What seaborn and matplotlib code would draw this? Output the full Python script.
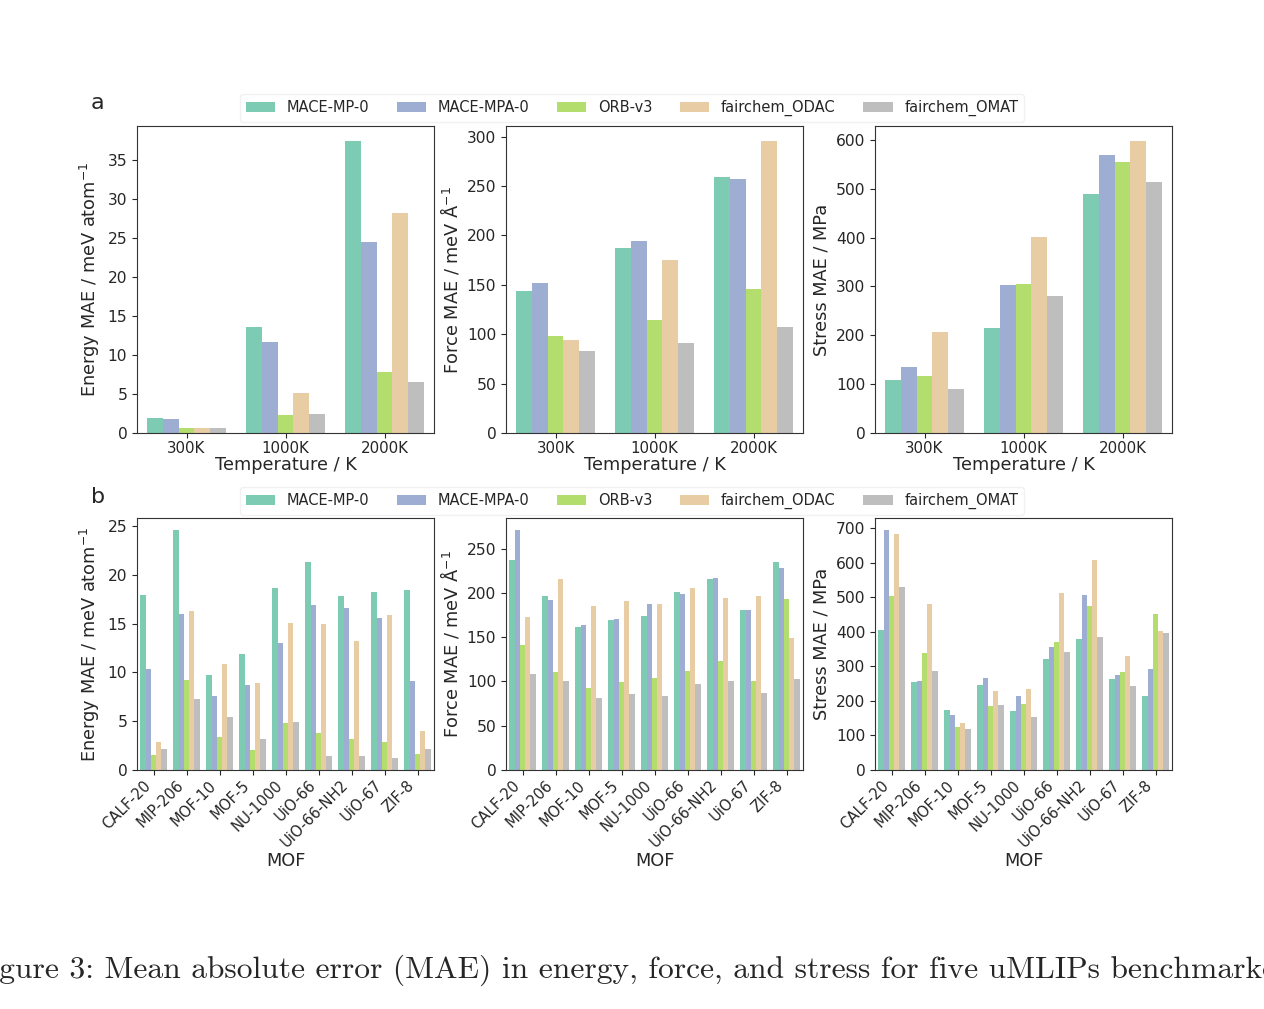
import matplotlib
matplotlib.use("Agg")
import matplotlib.pyplot as plt
import seaborn as sns
import pandas as pd

# models and colours
models = ["MACE-MP-0", "MACE-MPA-0", "ORB-v3", "fairchem_ODAC", "fairchem_OMAT"]
colors = ["#66c2a5", "#8da0cb", "#a6d854", "#e5c494", "#b3b3b3"]

temps = ["300K", "1000K", "2000K"]
mofs = ["CALF-20", "MIP-206", "MOF-10", "MOF-5", "NU-1000",
        "UiO-66", "UiO-66-NH2", "UiO-67", "ZIF-8"]

# panel a: MAE vs temperature (rows = models, columns = temps)
energy_temp = [
    [1.92, 13.54, 37.42],
    [1.83, 11.62, 24.44],
    [0.64, 2.30, 7.79],
    [0.60, 5.15, 28.22],
    [0.68, 2.47, 6.51],
]
force_temp = [
    [143.6, 187.0, 259.3],
    [151.4, 194.1, 257.0],
    [97.9, 114.7, 146.0],
    [93.8, 175.6, 296.0],
    [83.4, 91.5, 107.0],
]
stress_temp = [
    [108.8, 215.6, 488.4],
    [136.0, 303.4, 570.0],
    [117.0, 304.8, 554.4],
    [206.0, 400.7, 598.6],
    [89.8, 280.3, 513.0],
]

# panel b: MAE per MOF (rows = models, columns = mofs)
energy_mof = [
    [17.95, 24.59, 9.71, 11.92, 18.66, 21.29, 17.85, 18.22, 18.43],
    [10.32, 15.94, 7.56, 8.69, 13.01, 16.89, 16.59, 15.60, 9.16],
    [1.53, 9.23, 3.34, 2.08, 4.77, 3.81, 3.13, 2.86, 1.60],
    [2.83, 16.31, 10.90, 8.92, 15.09, 14.92, 13.22, 15.87, 3.95],
    [2.15, 7.32, 5.38, 3.17, 4.87, 1.43, 1.43, 1.26, 2.11],
]
force_mof = [
    [237.6, 196.7, 161.0, 168.9, 173.4, 200.8, 216.2, 180.9, 235.4],
    [271.0, 192.2, 163.7, 170.4, 186.9, 198.9, 217.3, 180.9, 227.9],
    [141.5, 110.7, 92.7, 99.8, 103.6, 112.2, 123.5, 101.0, 192.9],
    [172.7, 215.8, 185.0, 190.3, 187.7, 205.3, 194.1, 196.7, 149.0],
    [108.9, 100.6, 81.8, 86.3, 83.3, 97.6, 100.2, 87.5, 103.2],
]
stress_mof = [
    [404.4, 256.1, 174.3, 247.4, 172.3, 320.6, 379.4, 263.8, 213.8],
    [695.2, 257.1, 158.9, 267.7, 214.7, 357.2, 506.5, 275.4, 292.7],
    [504.5, 338.9, 125.2, 185.8, 190.6, 371.7, 475.6, 284.0, 450.6],
    [682.6, 479.5, 134.8, 229.2, 235.9, 512.2, 608.5, 330.3, 403.4],
    [531.5, 286.0, 119.4, 189.7, 154.1, 341.8, 385.1, 244.6, 397.7],
]

ylabels = ["Energy MAE / meV atom$^{-1}$", "Force MAE / meV Å$^{-1}$", "Stress MAE / MPa"]


def long_table(values, cats, catname):
    rows = []
    for m, vals in zip(models, values):
        for c, v in zip(cats, vals):
            rows.append({catname: c, "Model": m, "MAE": v})
    return pd.DataFrame(rows)


sns.set_style("ticks")
plt.rcParams["font.family"] = ["DejaVu Sans"]
plt.rcParams["xtick.labelsize"] = 10.8
plt.rcParams["ytick.labelsize"] = 11.2
plt.rcParams["axes.labelsize"] = 12.8

W, H = 1264, 1009
fig = plt.figure(figsize=(W / 100, H / 100), dpi=100)

lefts = [137, 506, 875]
widths = [297, 297, 297]


def px_axes(x0, x1, y0, y1):
    return fig.add_axes([x0 / W, 1 - y1 / H, (x1 - x0) / W, (y1 - y0) / H])


palette = dict(zip(models, colors))

# top row
top_data = [energy_temp, force_temp, stress_temp]
for i, vals in enumerate(top_data):
    ax = px_axes(lefts[i], lefts[i] + widths[i], 126, 433)
    df = long_table(vals, temps, "Temperature")
    sns.barplot(data=df, x="Temperature", y="MAE", hue="Model", palette=palette,
                saturation=1, alpha=0.85, linewidth=0, ax=ax, legend=False)
    ax.set_xlabel("Temperature / K", labelpad=0)
    ax.set_ylabel(ylabels[i])
    ax.tick_params(axis="x", pad=2)
    for s in ax.spines.values():
        s.set_color("#333333")

# bottom row
bottom_data = [energy_mof, force_mof, stress_mof]
for i, vals in enumerate(bottom_data):
    ax = px_axes(lefts[i], lefts[i] + widths[i], 518, 770)
    df = long_table(vals, mofs, "MOF")
    sns.barplot(data=df, x="MOF", y="MAE", hue="Model", palette=palette,
                saturation=1, alpha=0.85, linewidth=0, ax=ax, legend=False)
    ax.set_xlabel("MOF", labelpad=1)
    ax.set_ylabel(ylabels[i])
    ax.tick_params(axis="x", rotation=45, pad=2, labelsize=10.6)
    for lab in ax.get_xticklabels():
        lab.set_ha("right")
    for s in ax.spines.values():
        s.set_color("#333333")

# shared legends
handles = [plt.Rectangle((0, 0), 1, 1, color=c, alpha=0.85, lw=0) for c in colors]
for yc in [108, 501]:
    fig.legend(handles, models, loc="center", bbox_to_anchor=(0.5, 1 - yc / H),
               ncol=5, fontsize=10.5, handlelength=2.0, columnspacing=1.9,
               handletextpad=0.8, frameon=True, fancybox=True, edgecolor="#eeeeee")

fig.text(97 / W, 1 - 103 / H, "a", fontsize=16, ha="center", va="center")
fig.text(98 / W, 1 - 497 / H, "b", fontsize=16, ha="center", va="center")

# caption (cut off by the page edge, as in the source page)
fig.text(-30 / W, 1 - 978 / H,
         "Figure 3: Mean absolute error (MAE) in energy, force, and stress for five uMLIPs benchmarked",
         family="cmr10", fontsize=22.7, ha="left", va="baseline")

fig.savefig("out.png", dpi=100)
